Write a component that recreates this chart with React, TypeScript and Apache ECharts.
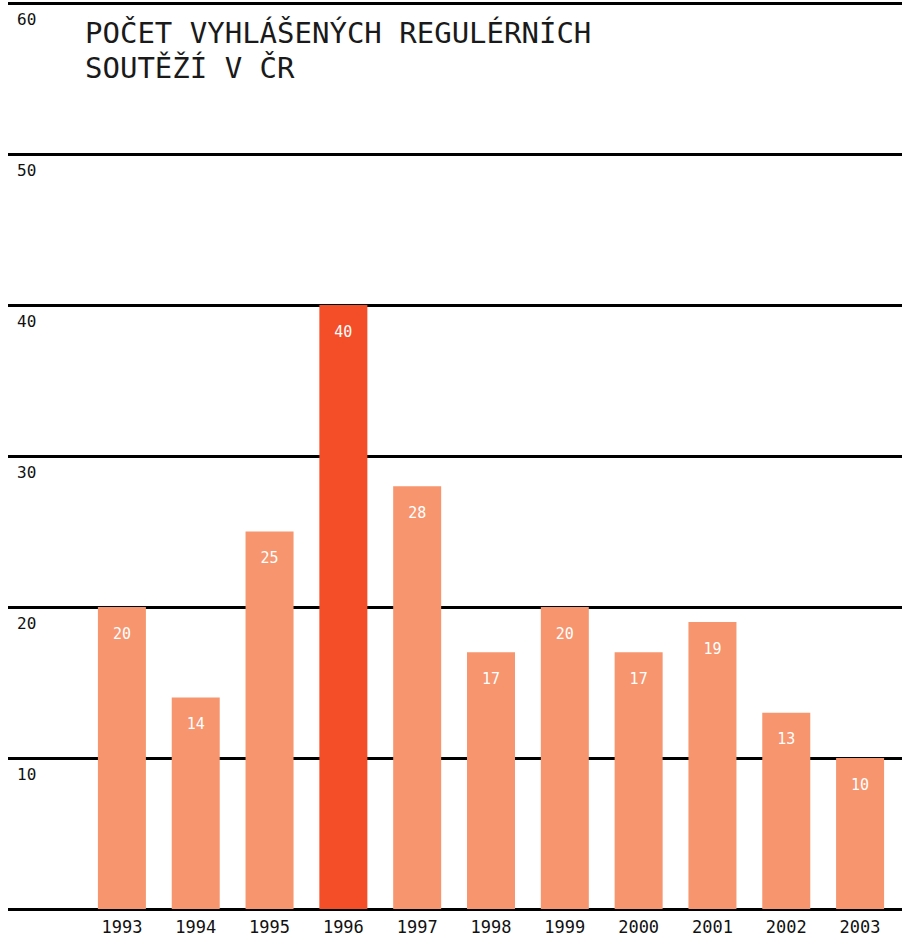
import React, { useEffect, useRef } from "react";
import * as echarts from "echarts";

const title = "POČET VYHLÁŠENÝCH REGULÉRNÍCH\nSOUTĚŽÍ V ČR";
const years = ["1993", "1994", "1995", "1996", "1997", "1998", "1999", "2000", "2001", "2002", "2003"];
const counts = [20, 14, 25, 40, 28, 17, 20, 17, 19, 13, 10];
const highlightYear = "1996";
const yMin = 0;
const yMax = 60;
const yStep = 10;

const MONO = "'DejaVu Sans Mono', 'Liberation Mono', monospace";
const BASE = "#F6956E";
const HIGHLIGHT = "#F34E27";

export default function App() {
  const ref = useRef<HTMLDivElement>(null);

  useEffect(() => {
    if (!ref.current) return;
    const chart = echarts.init(ref.current, null, { renderer: "svg" });
    const top = 3;
    const bottom = 936 - 909;
    chart.setOption({
      animation: false,
      backgroundColor: "#ffffff",
      title: {
        text: title,
        left: 80,
        top: 10,
        textStyle: {
          fontFamily: MONO,
          fontSize: 29,
          fontWeight: "normal",
          color: "#1a1a1a",
          lineHeight: 35,
        },
      },
      grid: [
        { left: 8, right: 0, top, bottom, containLabel: false },
        { left: 85, right: 5, top, bottom, containLabel: false },
      ],
      xAxis: [
        { type: "value", gridIndex: 0, show: false, min: 0, max: 1 },
        {
          type: "category",
          gridIndex: 1,
          data: years,
          axisLine: { show: false },
          axisTick: { show: false },
          axisLabel: {
            fontFamily: MONO,
            fontSize: 17,
            color: "#111111",
            margin: 9,
          },
        },
      ],
      yAxis: [
        {
          type: "value",
          gridIndex: 0,
          min: yMin,
          max: yMax,
          interval: yStep,
          axisLine: { show: false },
          axisTick: { show: false },
          splitLine: { show: true, lineStyle: { color: "#000000", width: 3 } },
          axisLabel: {
            inside: true,
            margin: 9,
            showMinLabel: false,
            verticalAlign: "top",
            padding: [8, 0, 0, 0],
            fontFamily: MONO,
            fontSize: 16,
            color: "#111111",
          },
        },
        {
          type: "value",
          gridIndex: 1,
          min: yMin,
          max: yMax,
          interval: yStep,
          show: false,
          splitLine: { show: false },
        },
      ],
      series: [
        {
          type: "bar",
          xAxisIndex: 1,
          yAxisIndex: 1,
          barWidth: 48,
          z: 5,
          data: counts.map((v, i) => ({
            value: v,
            itemStyle: { color: years[i] === highlightYear ? HIGHLIGHT : BASE },
          })),
          label: {
            show: true,
            position: "insideTop",
            distance: 19,
            color: "#ffffff",
            fontFamily: MONO,
            fontSize: 15,
          },
        },
      ],
    });
    return () => chart.dispose();
  }, []);

  return (
    <div
      ref={ref}
      style={{ position: "absolute", left: 0, top: 0, width: 902, height: 936 }}
    />
  );
}
